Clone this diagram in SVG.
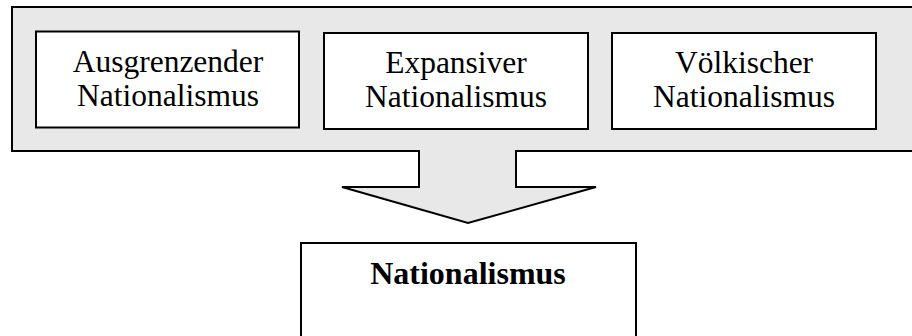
<svg xmlns="http://www.w3.org/2000/svg" width="912" height="336" viewBox="0 0 912 336">
<style>
.frame{fill:#e8e8e8;stroke:#000;stroke-width:2;stroke-linejoin:miter}
.box{fill:#fff;stroke:#000;stroke-width:2}
.t{font-family:"Liberation Serif","Times New Roman",serif;font-size:31.5px;fill:#000;text-anchor:middle}
.b{font-weight:bold;font-size:32px}
</style>
<rect width="912" height="336" fill="#fff"/>
<g id="connectors">
<path class="frame" d="M12,7 H920 V151 H516 V187 H596 L468,223 L342,187 H419 V151 H12 Z"/>
</g>
<g id="node-ausgrenzender">
<rect class="box" x="36" y="31.5" width="263" height="96"/>
<text class="t" x="168" y="72">Ausgrenzender</text>
<text class="t" x="168" y="106">Nationalismus</text>
</g>
<g id="node-expansiver">
<rect class="box" x="324" y="33" width="264" height="96"/>
<text class="t" x="456" y="73">Expansiver</text>
<text class="t" x="456" y="107">Nationalismus</text>
</g>
<g id="node-voelkischer">
<rect class="box" x="612" y="33" width="264" height="96"/>
<text class="t" x="744" y="73">Völkischer</text>
<text class="t" x="744" y="107">Nationalismus</text>
</g>
<g id="node-nationalismus">
<rect class="box" x="301" y="243" width="335" height="110"/>
<text class="t b" x="468" y="284">Nationalismus</text>
</g>
</svg>
